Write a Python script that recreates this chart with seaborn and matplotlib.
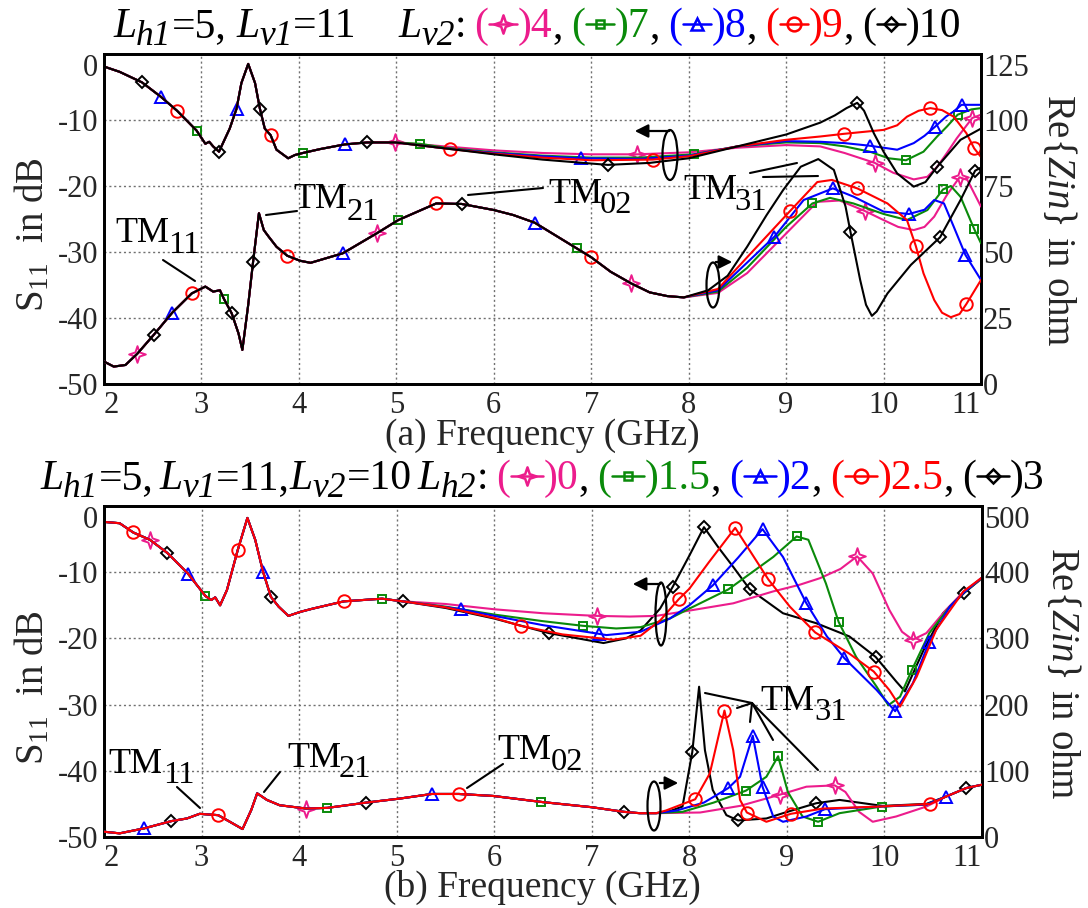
import numpy as np
import pandas as pd
import matplotlib
matplotlib.use("Agg")
import matplotlib.pyplot as plt
import seaborn as sns
from matplotlib.path import Path
from matplotlib.patches import Ellipse, FancyArrowPatch
from matplotlib.lines import Line2D

# ---------------------------------------------------------------- data
keys = ["pink", "green", "blue", "red", "black"]
lv2_values = ["4", "7", "8", "9", "10"]          # panel (a) legend values
lh2_values = ["0", "1.5", "2", "2.5", "3"]       # panel (b) legend values
x_ticks = [2, 3, 4, 5, 6, 7, 8, 9, 10, 11]
s11_ticks = [0, -10, -20, -30, -40, -50]
zin_ticks_a = [0, 25, 50, 75, 100, 125]
zin_ticks_b = [0, 100, 200, 300, 400, 500]

# ---- panel (a) S11 : shared part 2-5 GHz
a_s11_common_f = [2.0, 2.16, 2.39, 2.585, 2.75, 2.95, 3.04, 3.08, 3.12, 3.18, 3.29, 3.36, 3.41,
                  3.48, 3.55, 3.60, 3.65, 3.71, 3.77, 3.89, 3.96, 4.04, 4.22, 4.47, 4.70, 4.99]
a_s11_common_v = [-1.9, -2.7, -4.3, -6.5, -8.6, -11.6, -13.6, -13.3, -14.0, -14.8, -11.3, -8.3, -4.4,
                  -1.5, -4.4, -8.3, -11.3, -12.3, -14.5, -15.8, -15.3, -15.0, -14.4, -13.7, -13.4, -13.4]
a_s11_tail_f = {
    "pink":  [5.5, 6.0, 6.5, 7.0, 7.47, 8.0, 8.5, 9.0, 9.35, 9.6, 9.91, 10.1, 10.31, 10.45, 10.55, 10.65, 10.75, 10.91, 11.0],
    "green": [5.24, 5.5, 6.0, 6.5, 7.0, 7.5, 8.05, 8.5, 9.0, 9.35, 9.6, 9.86, 10.05, 10.23, 10.41, 10.55, 10.65, 10.76, 10.9, 11.0],
    "blue":  [5.5, 6.0, 6.5, 6.89, 7.5, 8.0, 8.5, 9.0, 9.35, 9.6, 9.86, 10.14, 10.31, 10.42, 10.53, 10.64, 10.72, 10.80, 11.0],
    "red":   [5.55, 6.0, 6.5, 7.0, 7.63, 8.0, 8.5, 9.0, 9.35, 9.59, 10.0, 10.14, 10.24, 10.36, 10.48, 10.60, 10.72, 10.85, 10.93, 11.0],
    "black": [5.5, 6.0, 6.5, 7.17, 7.6, 8.0, 8.5, 9.0, 9.35, 9.5, 9.62, 9.73, 9.8, 9.9, 10.0, 10.14, 10.31, 10.43, 10.55, 10.79, 11.0],
}
a_s11_tail_v = {
    "pink":  [-14.0, -14.6, -15.0, -15.2, -15.2, -14.9, -14.2, -13.8, -14.0, -15.0, -16.5, -18.0, -19.0, -18.6, -17.1, -15.0, -12.8, -9.7, -9.2],
    "green": [-13.6, -14.2, -14.9, -15.4, -15.7, -15.7, -15.2, -14.0, -13.4, -13.5, -14.0, -14.8, -15.8, -16.1, -14.8, -12.5, -11.0, -9.2, -8.4, -8.2],
    "blue":  [-14.3, -15.0, -15.5, -15.8, -15.9, -15.4, -14.0, -13.2, -13.3, -13.5, -13.9, -14.5, -13.5, -12.4, -11.0, -9.5, -8.7, -7.7, -7.7],
    "red":   [-14.4, -15.1, -15.7, -16.1, -16.0, -15.5, -14.0, -13.0, -12.5, -12.1, -11.5, -10.8, -9.5, -8.6, -8.2, -8.5, -9.5, -12.0, -14.3, -15.6],
    "black": [-14.3, -15.2, -16.0, -16.8, -16.5, -15.8, -14.0, -12.2, -10.4, -9.3, -8.2, -7.4, -8.6, -12.0, -14.8, -18.1, -20.1, -19.4, -17.1, -13.0, -11.3],
}
# ---- panel (a) Re{Zin} : shared part 2-8 GHz
a_zin_common_f = [2.0, 2.1, 2.22, 2.34, 2.51, 2.70, 2.90, 3.04, 3.12, 3.19, 3.23, 3.31, 3.38, 3.42, 3.48,
                  3.53, 3.59, 3.64, 3.69, 3.77, 3.88, 4.01, 4.12, 4.45, 4.80, 5.02, 5.41, 5.67, 6.0, 6.2,
                  6.42, 6.85, 7.0, 7.2, 7.41, 7.6, 7.78, 7.95]
a_zin_common_v = [8.5, 6.6, 7.2, 11.4, 18.6, 27.0, 34.3, 36.9, 35.0, 35.5, 32.3, 26.8, 19.2, 12.9, 30.0,
                  46.3, 64.7, 58.3, 55.8, 52.0, 48.6, 46.7, 45.9, 49.5, 57.1, 62.1, 68.4, 68.2, 65.9, 64.0,
                  61.1, 51.4, 48.0, 42.5, 38.1, 34.7, 33.3, 32.8]
a_zin_tail_f = {
    "pink":  [8.3, 8.6, 9.0, 9.32, 9.55, 9.81, 10.0, 10.15, 10.31, 10.42, 10.52, 10.65, 10.78, 10.86, 11.0],
    "green": [8.3, 8.6, 9.0, 9.27, 9.45, 9.69, 10.0, 10.24, 10.45, 10.61, 10.69, 10.79, 10.93, 11.0],
    "blue":  [8.3, 8.6, 8.88, 9.18, 9.48, 9.69, 10.0, 10.26, 10.42, 10.52, 10.62, 10.72, 10.84, 11.0],
    "red":   [8.3, 8.6, 9.04, 9.32, 9.47, 9.73, 10.04, 10.24, 10.33, 10.41, 10.52, 10.60, 10.69, 10.78, 10.85, 11.0],
    "black": [8.2, 8.4, 8.6, 8.8, 8.97, 9.15, 9.33, 9.49, 9.61, 9.66, 9.76, 9.82, 9.88, 9.93, 10.04, 10.28, 10.58, 10.79, 10.94, 11.0],
}
a_zin_tail_v = {
    "pink":  [34.5, 42.0, 57.0, 69.0, 69.5, 65.5, 62.1, 59.5, 58.3, 59.5, 63.4, 71.6, 78.3, 77.3, 67.2],
    "green": [35.0, 44.0, 59.5, 68.4, 70.5, 68.4, 64.4, 62.1, 65.9, 73.7, 75.0, 70.9, 58.7, 53.3],
    "blue":  [35.5, 46.0, 55.8, 69.7, 74.1, 71.0, 65.3, 64.4, 66.0, 69.7, 68.4, 59.6, 48.9, 39.4],
    "red":   [36.0, 48.0, 65.5, 76.5, 77.3, 74.1, 68.4, 62.1, 52.4, 41.9, 31.8, 27.0, 25.3, 26.5, 30.3, 39.4],
    "black": [35.5, 41.0, 52.0, 64.0, 73.5, 82.3, 85.2, 81.1, 67.2, 57.7, 39.4, 30.0, 25.8, 27.5, 34.3, 45.1, 55.6, 69.7, 80.8, 82.0],
}
# ---- panel (b) S11 : shared part 2-5 GHz
b_s11_common_f = [2.0, 2.16, 2.30, 2.47, 2.65, 2.86, 2.95, 3.04, 3.10, 3.14, 3.19, 3.26, 3.37, 3.47,
                  3.55, 3.63, 3.71, 3.79, 3.89, 4.01, 4.14, 4.46, 4.85, 5.06]
b_s11_common_v = [-2.4, -2.6, -4.0, -5.1, -7.1, -10.2, -11.9, -13.6, -14.2, -13.8, -15.0, -12.7, -6.7, -1.8,
                  -5.1, -9.9, -13.7, -15.2, -16.6, -16.0, -15.5, -14.4, -14.0, -14.4]
b_s11_tail_f = {
    "pink":  [5.5, 6.0, 6.5, 7.05, 7.39, 7.66, 8.0, 8.45, 8.86, 9.13, 9.34, 9.55, 9.72, 9.88, 10.05, 10.18, 10.29, 10.43, 10.63, 10.82, 11.0],
    "green": [5.5, 6.0, 6.5, 6.91, 7.25, 7.5, 7.8, 8.0, 8.40, 8.86, 9.10, 9.22, 9.40, 9.53, 9.71, 9.92, 10.04, 10.16, 10.28, 10.46, 10.67, 10.82, 11.0],
    "blue":  [5.66, 6.0, 6.5, 7.07, 7.15, 7.5, 7.8, 8.0, 8.24, 8.5, 8.75, 8.96, 9.20, 9.41, 9.59, 9.92, 10.11, 10.29, 10.46, 10.67, 10.82, 11.0],
    "red":   [5.5, 6.0, 6.27, 6.7, 7.22, 7.5, 7.7, 7.89, 8.0, 8.2, 8.47, 8.81, 9.03, 9.29, 9.64, 9.89, 10.05, 10.16, 10.33, 10.53, 10.81, 11.0],
    "black": [5.5, 6.0, 6.56, 7.12, 7.35, 7.5, 7.7, 7.83, 8.0, 8.15, 8.3, 8.45, 8.62, 8.96, 9.30, 9.64, 9.91, 10.12, 10.21, 10.40, 10.60, 10.82, 11.0],
}
b_s11_tail_v = {
    "pink":  [-14.8, -15.6, -16.2, -16.6, -16.7, -16.6, -15.8, -14.7, -12.9, -11.9, -10.9, -9.5, -7.6, -10.2, -15.7, -19.0, -20.2, -19.2, -15.7, -12.8, -11.0],
    "green": [-15.2, -16.4, -17.4, -18.1, -18.5, -18.3, -17.0, -15.5, -12.6, -7.7, -4.6, -5.1, -11.7, -17.5, -22.8, -27.3, -30.1, -28.8, -24.8, -19.2, -15.2, -13.0, -10.9],
    "blue":  [-15.6, -16.6, -18.0, -19.3, -19.5, -19.0, -17.0, -15.0, -12.0, -7.8, -3.5, -7.7, -14.7, -19.7, -23.0, -27.8, -31.0, -26.8, -20.5, -15.2, -13.0, -10.8],
    "red":   [-15.3, -16.9, -18.1, -19.4, -20.2, -19.6, -17.3, -14.1, -12.5, -8.5, -3.3, -11.1, -15.2, -19.1, -22.3, -25.0, -27.8, -30.3, -25.8, -18.7, -12.9, -10.8],
    "black": [-15.4, -17.0, -19.2, -20.7, -20.0, -18.8, -15.5, -12.2, -7.5, -3.2, -6.3, -9.2, -12.6, -16.2, -17.7, -19.7, -22.8, -26.5, -28.0, -21.8, -16.2, -13.1, -10.9],
}
# ---- panel (b) Re{Zin} : shared part 2-7.66 GHz
b_zin_common_f = [2.0, 2.16, 2.41, 2.69, 2.85, 2.98, 3.17, 3.29, 3.42, 3.51, 3.57, 3.67, 3.80, 4.07, 4.29,
                  4.69, 5.03, 5.36, 5.64, 5.99, 6.48, 7.0, 7.33, 7.49, 7.66]
b_zin_common_v = [8, 5.5, 13, 24, 28, 35, 33, 23, 12, 41, 66, 56, 48, 43, 44,
                  52, 58, 65, 65, 62, 53, 45, 38, 36, 36]
b_zin_tail_f = {
    "pink":  [8.11, 8.52, 8.93, 9.20, 9.49, 9.60, 9.74, 9.88, 10.12, 10.43, 10.63, 10.84, 11.0],
    "green": [7.93, 8.25, 8.58, 8.79, 8.91, 9.01, 9.16, 9.32, 9.54, 9.97, 10.43, 10.63, 10.84, 11.0],
    "blue":  [7.87, 8.15, 8.40, 8.52, 8.65, 8.75, 8.86, 8.96, 9.20, 9.39, 9.95, 10.43, 10.63, 10.84, 11.0],
    "red":   [7.76, 8.06, 8.21, 8.36, 8.45, 8.52, 8.59, 8.79, 9.04, 9.37, 9.95, 10.47, 10.63, 10.84, 11.0],
    "black": [7.80, 7.93, 8.03, 8.10, 8.16, 8.24, 8.38, 8.50, 8.79, 8.96, 9.30, 9.54, 9.98, 10.43, 10.63, 10.84, 11.0],
}
b_zin_tail_v = {
    "pink":  [37, 47, 64, 76, 78, 68, 38, 23, 31, 46, 61, 74, 79],
    "green": [38, 52, 70, 91, 122, 68, 31, 23, 36, 46, 49, 61, 74, 79],
    "blue":  [40, 52, 74, 91, 153, 76, 31, 23, 31, 42, 46, 49, 61, 74, 79],
    "red":   [40, 57, 96, 191, 131, 56, 37, 23, 35, 43, 46, 50, 61, 74, 79],
    "black": [39, 46, 128, 227, 131, 71, 33, 25, 28, 36, 51, 56, 47, 50, 61, 74, 79],
}
# ---- marker frequencies (GHz) of each curve
a_s11_marks = {"pink": [4.99, 7.47, 9.91, 10.91], "green": [2.95, 4.04, 5.24, 8.05, 10.23, 10.76],
               "blue": [2.585, 3.36, 4.47, 6.89, 9.86, 10.53, 10.80], "red": [2.75, 3.71, 5.55, 7.63, 9.59, 10.48, 10.93],
               "black": [2.39, 3.18, 3.60, 4.70, 7.17, 9.73, 10.55]}
a_zin_marks = {"pink": [2.34, 4.80, 7.41, 9.81, 10.78], "green": [3.23, 5.02, 6.85, 9.27, 10.61, 10.93],
               "blue": [2.70, 4.45, 6.42, 8.88, 9.48, 10.26, 10.84], "red": [2.90, 3.88, 5.41, 7.0, 9.04, 9.73, 10.33, 10.85],
               "black": [2.51, 3.31, 3.53, 5.67, 9.66, 10.58, 10.94]}
b_s11_marks = {"pink": [2.47, 7.05, 9.72, 10.29], "green": [3.04, 4.85, 6.91, 8.40, 9.10, 9.53, 10.28],
               "blue": [2.86, 3.63, 5.66, 7.07, 8.24, 8.75, 9.20, 9.59, 10.11, 10.46],
               "red": [2.30, 3.37, 4.46, 6.27, 7.89, 8.47, 8.81, 9.29, 9.89],
               "black": [2.65, 3.71, 5.06, 6.56, 7.83, 8.15, 8.62, 9.91, 10.82]}
b_zin_marks = {"pink": [4.07, 8.93, 9.49], "green": [4.29, 6.48, 8.58, 8.91, 9.32, 9.97],
               "blue": [2.41, 5.36, 8.40, 8.65, 8.75, 9.39, 10.63], "red": [3.17, 5.64, 8.06, 8.36, 8.59, 9.04, 10.47],
               "black": [2.69, 4.69, 7.33, 8.03, 8.50, 9.30, 10.84]}

# ---------------------------------------------------------------- style
W, H = 1088, 908
COL = {"pink": "#EC1C8C", "green": "#0A8A0A", "blue": "#0000FF", "red": "#FF0000", "black": "#000000"}
STAR4 = Path([(0, 1), (0.25, 0.25), (1, 0), (0.25, -0.25), (0, -1), (-0.25, -0.25), (-1, 0), (-0.25, 0.25), (0, 1)],
             [Path.MOVETO] + [Path.LINETO] * 7 + [Path.CLOSEPOLY])
MK = {"pink": STAR4, "green": "s", "blue": "^", "red": "o", "black": "D"}
MS = {"pink": 12, "green": 5.5, "blue": 8, "red": 9, "black": 6.5}

sns.set_theme(style="white")
plt.rcParams["font.family"] = ["Liberation Serif", "DejaVu Serif"]
plt.rcParams["mathtext.fontset"] = "custom"
plt.rcParams["mathtext.rm"] = "Liberation Serif"
plt.rcParams["mathtext.it"] = "Liberation Serif:italic"
plt.rcParams["axes.unicode_minus"] = False

fig = plt.figure(figsize=(W / 100, H / 100), dpi=100)
fig.patch.set_facecolor("white")
R = fig.canvas.get_renderer()


def fx(x):
    return x / W


def fy(y):
    return 1 - y / H


def draw_curve(ax, f, v, marks, key, z):
    f = np.asarray(f, float)
    v = np.asarray(v, float)
    idx = sorted(set(int(np.argmin(np.abs(f - m))) for m in marks))
    df = pd.DataFrame({"f": f, "v": v})
    sns.lineplot(data=df, x="f", y="v", ax=ax, color=COL[key], marker=MK[key], markevery=idx,
                 markersize=MS[key], markerfacecolor="none", markeredgecolor=COL[key],
                 markeredgewidth=1.4, linewidth=1.5, sort=False, estimator=None, errorbar=None,
                 legend=False, zorder=z)


def style_axes(ax, ax2, zticks, zmax):
    ax.set_xlim(2, 11)
    ax.set_ylim(-50, 0)
    ax2.set_ylim(0, zmax)
    ax.set_xticks(x_ticks)
    xl = ax.set_xticklabels([str(t) for t in x_ticks])
    xl[0].set_ha("left")
    xl[-1].set_ha("right")
    ax.set_yticks(s11_ticks)
    yl = ax.set_yticklabels([str(t) for t in s11_ticks])
    yl[0].set_va("top")
    ax2.set_yticks(zticks)
    zl = ax2.set_yticklabels([str(t) for t in zticks])
    zl[-1].set_va("top")
    ax.set_xlabel("")
    ax.set_ylabel("")
    ax2.set_ylabel("")
    ax.grid(True, color="#707070", linestyle=(0, (1.5, 2.0)), linewidth=1.0)
    ax.tick_params(axis="x", length=0, pad=5, labelsize=22)
    ax.tick_params(axis="y", length=0, pad=4, labelsize=22)
    ax2.tick_params(axis="y", length=0, pad=1.5, labelsize=22)
    for a in (ax, ax2):
        for s in a.spines.values():
            s.set_linewidth(2.0)
            s.set_color("black")


def put(x, y, s, size, color="black", style="normal", **kw):
    return fig.text(fx(x), fy(y), s, fontsize=size, color=color, style=style,
                    va="baseline", ha="left", **kw)


def run(x, y, pieces, size):
    for p in pieces:
        if p[0] == "G":
            x += p[1]
        elif p[0] == "M":
            key, w = p[1], p[2]
            yc = y - 0.32 * size * 100 / 72
            ln = Line2D([fx(x + 1), fx(x + w / 2), fx(x + w - 1)], [fy(yc)] * 3, transform=fig.transFigure,
                        color=COL[key], lw=1.8, marker=MK[key], markevery=[1], ms=MS[key] * 1.1,
                        mfc="none", mec=COL[key], mew=1.8)
            fig.add_artist(ln)
            x += w
        else:
            s, color, style, scale, dy = p
            t = put(x, y + dy, s, size * scale, color, style)
            x = t.get_window_extent(R).x1
    return x


def tm(x, y, sub, xs, ys, size=26):
    put(x, y, "TM", size)
    shift = 7 if sub.startswith("1") else 3
    put(xs - shift, ys, sub, size * 0.9)


def seg(p0, p1, lw=1.5):
    fig.add_artist(Line2D([fx(p0[0]), fx(p1[0])], [fy(p0[1]), fy(p1[1])], transform=fig.transFigure,
                          color="black", lw=lw))


def ell(cx, cy, w, h):
    fig.add_artist(Ellipse((fx(cx), fy(cy)), w / W, h / H, transform=fig.transFigure,
                           fill=False, ec="black", lw=1.6))


def arrow(p0, p1):
    fig.add_artist(FancyArrowPatch((fx(p0[0]), fy(p0[1])), (fx(p1[0]), fy(p1[1])),
                                   transform=fig.transFigure, arrowstyle="-|>", mutation_scale=20,
                                   lw=1.6, color="black"))


# ---------------------------------------------------------------- panel (a)
ax_a = fig.add_axes([104 / W, 1 - 384 / H, (981 - 104) / W, (384 - 54) / H])
ax_a2 = ax_a.twinx()
for z, k in enumerate(keys):
    draw_curve(ax_a, a_s11_common_f + a_s11_tail_f[k], a_s11_common_v + a_s11_tail_v[k], a_s11_marks[k], k, 3 + z)
    draw_curve(ax_a2, a_zin_common_f + a_zin_tail_f[k], a_zin_common_v + a_zin_tail_v[k], a_zin_marks[k], k, 3 + z)
style_axes(ax_a, ax_a2, zin_ticks_a, 125)

# ---------------------------------------------------------------- panel (b)
ax_b = fig.add_axes([104 / W, 1 - 837 / H, (982 - 104) / W, (837 - 506) / H])
ax_b2 = ax_b.twinx()
order_b = ["black", "pink", "green", "blue", "red"]
for z, k in enumerate(order_b):
    draw_curve(ax_b, b_s11_common_f + b_s11_tail_f[k], b_s11_common_v + b_s11_tail_v[k], b_s11_marks[k], k, 3 + z)
    draw_curve(ax_b2, b_zin_common_f + b_zin_tail_f[k], b_zin_common_v + b_zin_tail_v[k], b_zin_marks[k], k, 3 + z)
style_axes(ax_b, ax_b2, zin_ticks_b, 500)

fig.canvas.draw()

# ---------------------------------------------------------------- titles
IT, RM, K = "italic", "normal", "black"
TS = 30
SUB = (0.85, 8)
run(113, 37, [("L", K, IT, 1, 0), ("h1", K, IT, *SUB), ("=5,", K, RM, 1, 0), ("G", 10),
              ("L", K, IT, 1, 0), ("v1", K, IT, *SUB), ("=11", K, RM, 1, 0)], TS)
pieces_a = [("L", K, IT, 1, 0), ("v2", K, IT, *SUB), (":", K, RM, 1, 0), ("G", 8)]
for i, k in enumerate(keys):
    pieces_a += [("(", COL[k], RM, 1, 0), ("M", k, 30), (")" + lv2_values[i], COL[k], RM, 1, 0)]
    if i < len(keys) - 1:
        pieces_a += [(",", K, RM, 1, 0), ("G", 8)]
run(398, 37, pieces_a, TS)

pieces_b = [("L", K, IT, 1, 0), ("h1", K, IT, *SUB), ("=5,", K, RM, 1, 0), ("G", 6),
            ("L", K, IT, 1, 0), ("v1", K, IT, *SUB), ("=11,", K, RM, 1, 0),
            ("L", K, IT, 1, 0), ("v2", K, IT, *SUB), ("=10", K, RM, 1, 0), ("G", 6),
            ("L", K, IT, 1, 0), ("h2", K, IT, *SUB), (":", K, RM, 1, 0), ("G", 8)]
for i, k in enumerate(keys):
    pieces_b += [("(", COL[k], RM, 1, 0), ("M", k, 34), (")" + lh2_values[i], COL[k], RM, 1, 0)]
    if i < len(keys) - 1:
        pieces_b += [(",", K, RM, 1, 0), ("G", 8)]
run(40, 489, pieces_b, TS)

# ---------------------------------------------------------------- axis labels
fig.text(fx(542), fy(445), "(a) Frequency (GHz)", fontsize=27, ha="center", va="baseline")
fig.text(fx(542), fy(897), "(b) Frequency (GHz)", fontsize=27, ha="center", va="baseline")
for yc in (235, 688):
    fig.text(fx(33), fy(yc), r"S$_{11}$  in dB", fontsize=28, rotation=90, ha="center", va="center")
fig.text(fx(1058), fy(220), r"Re{$\mathit{Zin}$} in ohm", fontsize=28, rotation=270, ha="center", va="center")
fig.text(fx(1062), fy(673), r"Re{$\mathit{Zin}$} in ohm", fontsize=28, rotation=270, ha="center", va="center")

# ---------------------------------------------------------------- annotations (a)
tm(115, 242, "11", 175, 253)
seg((163, 260), (195, 281))
tm(293, 208, "21", 350, 220)
seg((297, 211), (266, 215))
tm(548, 203, "02", 603, 213)
seg((543, 188), (468, 195))
tm(683, 199, "31", 737, 210)
seg((750, 173), (797, 163))
seg((763, 177), (818, 176))
ell(670, 155, 15, 50)
arrow((672, 131), (632, 131))
ell(713, 285, 13, 45)
arrow((713, 262), (735, 262))

# ---------------------------------------------------------------- annotations (b)
tm(108, 773, "11", 170, 783)
seg((177, 787), (200, 808))
tm(287, 767, "21", 342, 777)
seg((280, 772), (264, 792))
tm(497, 759, "02", 554, 770)
seg((503, 764), (467, 788))
tm(760, 710, "31", 817, 720)
for end in [(705, 693), (737, 708), (750, 722), (773, 740), (818, 770)]:
    seg((752, 703), end)
ell(661, 614, 11, 63)
arrow((663, 584), (630, 584))
ell(654, 806, 13, 49)
arrow((657, 783), (681, 783))

fig.savefig("out.png", dpi=100, facecolor="white")
